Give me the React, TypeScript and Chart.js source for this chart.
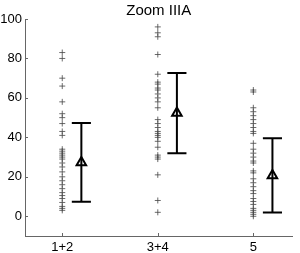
import React, { useEffect, useRef } from "react";
import { Chart, registerables } from "chart.js";

Chart.register(...registerables);

const categories = ["1+2", "3+4", "5"];
const yTicks = [0, 20, 40, 60, 80, 100];

const group12 = [83, 80, 70, 66, 58, 52, 50, 47, 43, 41, 34, 33, 32, 31, 30, 29, 27, 25, 22.5, 20, 18, 16, 14, 12, 10.5, 9, 7, 5, 4, 3];
const group34 = [96, 93, 91, 82, 72, 68, 67, 65, 64, 62, 60, 58, 55, 49, 47, 45, 43, 42, 41, 40, 38, 35, 31, 30, 29, 21, 8, 2];
const group5 = [64, 63, 55, 53, 51, 49, 47, 45, 43, 42, 37, 34, 32, 30, 28, 27, 23, 22, 19, 17, 15, 13, 11.5, 9, 7.5, 6, 4, 3, 2, 1, 0];

const means = [27.3, 52.3, 20.7];
const errors = [20, 20.3, 18.8];

const groups = [group12, group34, group5];
const OFFSET = 0.2;
const CAP = 0.1;

export default function App() {
  const ref = useRef<HTMLCanvasElement | null>(null);

  useEffect(() => {
    document.body.style.margin = "0";
    const canvas = ref.current;
    if (!canvas) return;

    const overlay = {
      id: "overlay",
      afterDatasetsDraw(chart: any) {
        const ctx = chart.ctx;
        const xs = chart.scales.x;
        const ys = chart.scales.y;
        const area = chart.chartArea;
        ctx.save();
        ctx.strokeStyle = "#000";
        ctx.lineWidth = 2;
        means.forEach((m, i) => {
          const cx = xs.getPixelForValue(i + 1 + OFFSET);
          const x0 = xs.getPixelForValue(i + 1 + OFFSET - CAP);
          const x1 = xs.getPixelForValue(i + 1 + OFFSET + CAP);
          const yl = ys.getPixelForValue(m - errors[i]);
          const yh = ys.getPixelForValue(m + errors[i]);
          ctx.beginPath();
          ctx.moveTo(cx, yl);
          ctx.lineTo(cx, yh);
          ctx.moveTo(x0, yl);
          ctx.lineTo(x1, yl);
          ctx.moveTo(x0, yh);
          ctx.lineTo(x1, yh);
          ctx.stroke();
        });
        ctx.strokeStyle = "#666";
        ctx.lineWidth = 1;
        ctx.beginPath();
        yTicks.forEach((t) => {
          const y = Math.round(ys.getPixelForValue(t)) + 0.5;
          ctx.moveTo(area.left, y);
          ctx.lineTo(area.left + 3, y);
        });
        categories.forEach((_, i) => {
          const x = Math.round(xs.getPixelForValue(i + 1)) + 0.5;
          ctx.moveTo(x, area.bottom);
          ctx.lineTo(x, area.bottom - 3);
        });
        ctx.stroke();
        ctx.fillStyle = "#000";
        ctx.font = "15px 'Liberation Sans', Arial, sans-serif";
        ctx.textAlign = "center";
        ctx.textBaseline = "middle";
        ctx.fillText("Zoom IIIA", (area.left + area.right) / 2, 11);
        ctx.restore();
      },
    };

    const scatterSets = groups.map((g, i) => ({
      type: "scatter" as const,
      data: g.map((v) => ({ x: i + 1, y: v })),
      pointStyle: "cross",
      pointRadius: 3,
      pointBorderWidth: 1,
      borderColor: "rgba(70,70,70,0.8)",
      backgroundColor: "rgba(70,70,70,0.8)",
    }));

    const meanSet = {
      type: "scatter" as const,
      data: means.map((m, i) => ({ x: i + 1 + OFFSET, y: m })),
      pointStyle: "triangle",
      pointRadius: 5.5,
      pointBorderWidth: 2,
      borderColor: "#000",
      backgroundColor: "rgba(0,0,0,0)",
    };

    const chart = new Chart(canvas, {
      type: "scatter",
      data: { datasets: [...scatterSets, meanSet] as any },
      options: {
        animation: false,
        responsive: false,
        maintainAspectRatio: false,
        layout: { padding: { top: 19, right: 1, left: 0, bottom: 0 } },
        plugins: {
          legend: { display: false },
          tooltip: { enabled: false },
          title: { display: false },
        },
        scales: {
          x: {
            type: "linear",
            min: 0.61,
            max: 3.41,
            afterBuildTicks: (s: any) => {
              s.ticks = categories.map((_, i) => ({ value: i + 1 }));
            },
            afterFit: (s: any) => {
              s.height = 17;
            },
            ticks: {
              callback: (v: any) => categories[Number(v) - 1] ?? "",
              color: "#000",
              font: { size: 13, family: "'Liberation Sans', Arial, sans-serif" },
              padding: 4,
              maxRotation: 0,
              autoSkip: false,
            },
            grid: { display: false, drawTicks: false },
            border: { display: true, color: "#666", width: 1 },
          },
          y: {
            type: "linear",
            min: -10,
            max: 100,
            afterBuildTicks: (s: any) => {
              s.ticks = yTicks.map((v) => ({ value: v }));
            },
            afterFit: (s: any) => {
              s.width = 25;
            },
            ticks: {
              color: "#000",
              font: { size: 13, family: "'Liberation Sans', Arial, sans-serif" },
              padding: 3,
            },
            grid: { display: false, drawTicks: false },
            border: { display: true, color: "#666", width: 1 },
          },
        },
      },
      plugins: [overlay],
    });

    return () => chart.destroy();
  }, []);

  return (
    <div style={{ width: 300, height: 253, background: "#fff" }}>
      <canvas ref={ref} width={300} height={253} style={{ display: "block" }} />
    </div>
  );
}
